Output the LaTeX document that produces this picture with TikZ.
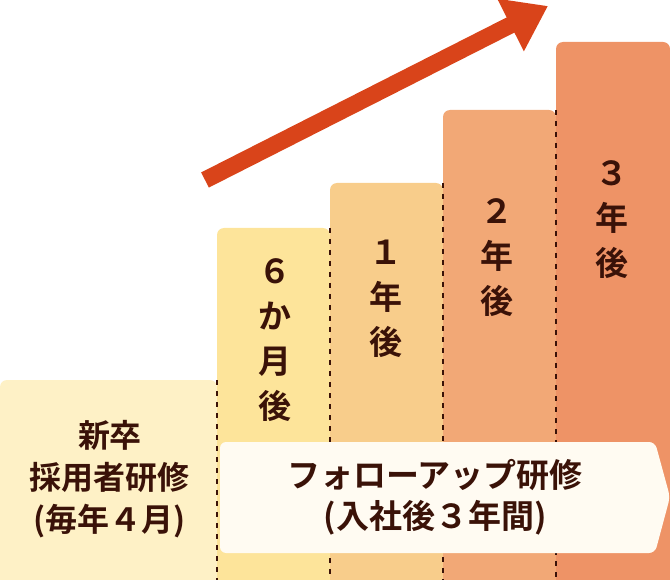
\documentclass[tikz,border=0pt]{standalone}
\usepackage{fontspec}
\newfontfamily\jp{Noto Sans CJK JP Bold}
\usetikzlibrary{arrows.meta}
\definecolor{txt}{HTML}{3A1208}
\definecolor{cA}{HTML}{FEF1C6}
\definecolor{cB}{HTML}{FDE49A}
\definecolor{cC}{HTML}{F8CD8B}
\definecolor{cD}{HTML}{F2A876}
\definecolor{cE}{HTML}{EE9366}
\definecolor{arr}{HTML}{D9441A}
\definecolor{ban}{HTML}{FFFBF2}
\tikzset{bar/.style={rounded corners=7pt},
 divl/.style={txt,line width=2.8pt,dash pattern=on 5pt off 6pt},
 vlab/.style={font=\jp\fontsize{33}{45}\selectfont,text=txt,align=center,anchor=north,inner sep=0pt},
 tlab/.style={font=\jp\fontsize{32}{42}\selectfont,text=txt,align=center}}
\begin{document}
\begin{tikzpicture}[x=1pt,y=-1pt]
\useasboundingbox (0,0) rectangle (670,580);
\fill[cA,bar] (0,580) -- (0,380) -- (217,380) -- (217,580) -- cycle;
\fill[cB,bar] (217,590) |- (330,228) -- (330,590);
\fill[cC,bar] (330,590) |- (443,183) -- (443,590);
\fill[cD,bar] (443,590) |- (556,110) -- (556,590);
\fill[cE,bar] (556,590) |- (670,42) -- (670,590);
\fill[cA] (0,570) rectangle (217,580);
\foreach \x/\t in {217/380,330/228,443/183,556/110}
  \draw[divl] (\x,\t) -- (\x,580);
\fill[ban,rounded corners=6pt] (220,442) -- (655,442) -- (670,497) -- (655,553) -- (220,553) -- cycle;
\draw[arr,line width=17pt,-{Triangle[length=42pt,width=56pt]}] (205,180) -- (548,6);
\node[vlab] (m6) at (275,258) {６\\か\\月\\後};
\node[vlab] (y1) at (386,240) {１\\年\\後};
\node[vlab] (y2) at (497,198) {２\\年\\後};
\node[vlab] (y3) at (612,160) {３\\年\\後};
\node[tlab] (new) at (110,479) {新卒\\採用者研修\\(毎年４月)};
\node[tlab,font=\jp\fontsize{33}{41}\selectfont] (fol) at (435,497) {フォローアップ研修\\(入社後３年間)};
\end{tikzpicture}
\end{document}
